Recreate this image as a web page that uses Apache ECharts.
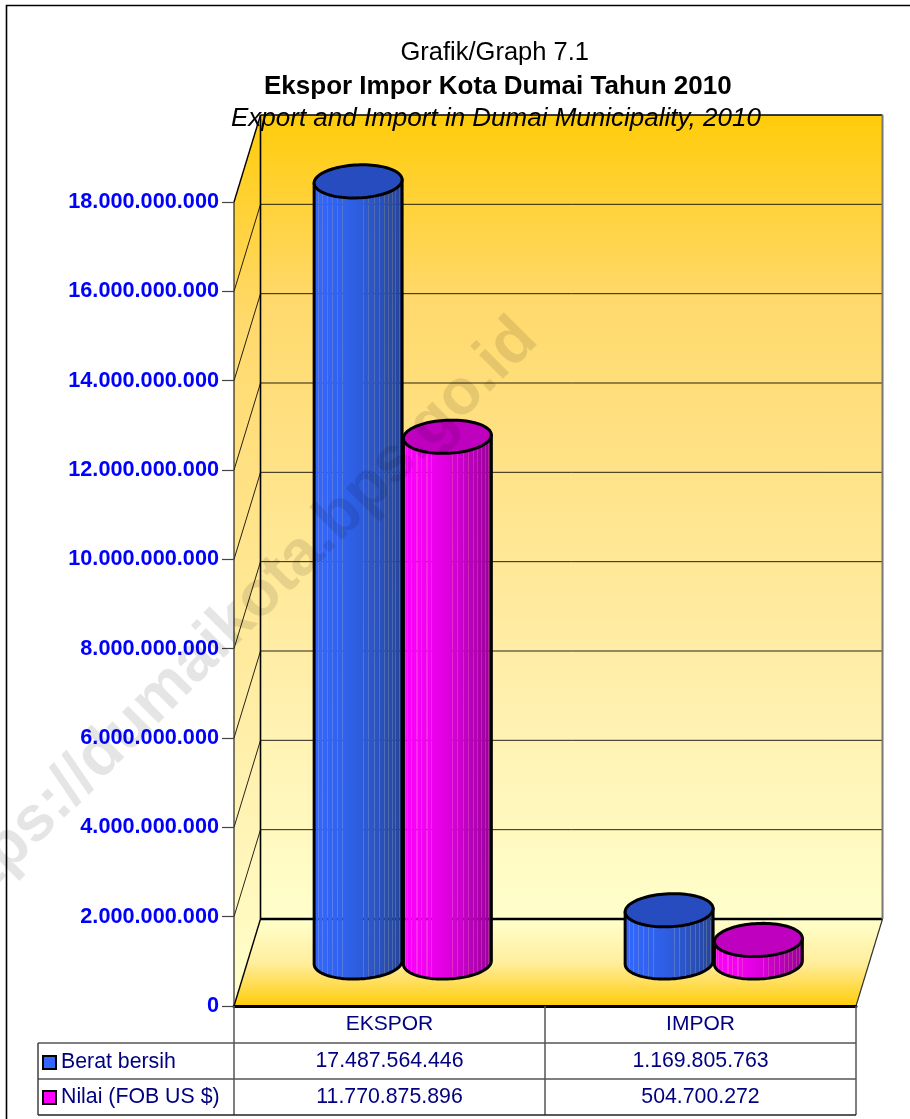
<!DOCTYPE html>
<html><head><meta charset="utf-8">
<style>html,body{margin:0;padding:0;background:#fff}#c{width:910px;height:1119px}</style>
<script src="https://cdn.jsdelivr.net/npm/echarts@6/dist/echarts.min.js"></script>
</head><body><div id="c"></div>
<script>
const categories = ['EKSPOR', 'IMPOR'];
const beratBersih = [17487564446, 1169805763];
const nilaiFob = [11770875896, 504700272];
const yTicks = [0, 2e9, 4e9, 6e9, 8e9, 10e9, 12e9, 14e9, 16e9, 18e9];
const seriesNames = ['Berat bersih', 'Nilai (FOB US $)'];
const titleLines = ['Grafik/Graph 7.1', 'Ekspor Impor Kota Dumai Tahun 2010', 'Export and Import in Dumai Municipality, 2010'];

const FONT = '"Liberation Sans", Arial, sans-serif';
const NAVY = '#000080';
const DEPTH = [26.5, -87];
const fmt = v => String(v).replace(/\B(?=(\d{3})+(?!\d))/g, '.');

const stripeOffsets = [.03,.06,.10,.16,.21,.27,.32,.55,.61,.67,.73,.78,.83,.87,.91,.95,.98];
function mix(a, b, t){ return a.map((v,i)=>v+(b[i]-v)*t); }
function facetColor(c, p){ return p < .45 ? mix(c[0], c[1], p/.45) : mix(c[1], c[2], (p-.45)/.55); }
function rgba(c, a){ return 'rgba(' + c.map(Math.round).join(',') + ',' + a + ')'; }
function facetGradient(c){
  const stops = [{offset:0, color:rgba(c[0],1)}];
  stripeOffsets.forEach(s=>{
    const w = .012;
    const a = facetColor(c, s), b = facetColor(c, s+w);
    stops.push({offset:s, color:rgba(a,1)},{offset:s, color:rgba(a,.82)},{offset:s+w, color:rgba(b,.82)},{offset:s+w, color:rgba(b,1)});
  });
  stops.push({offset:1, color:rgba(c[2],1)});
  return new echarts.graphic.LinearGradient(0,0,1,0,stops);
}
const palettes = [
  {body:[[51,102,255],[46,96,232],[38,68,150]], top:'#264CBF', flat:'#3366FF'},
  {body:[[255,0,255],[232,0,232],[150,0,150]], top:'#BF00BF', flat:'#FF00FF'}
];

function ellipsePoint(cx, cy, rx, ry, tilt, t){
  return [cx + rx*Math.cos(t)*Math.cos(tilt) - ry*Math.sin(t)*Math.sin(tilt),
          cy + rx*Math.cos(t)*Math.sin(tilt) + ry*Math.sin(t)*Math.cos(tilt)];
}
function cylinderRenderer(idx){
  return function(params, api){
    const cat = api.value(0), val = api.value(1);
    const band = api.size([1,0])[0];
    const top = api.coord([cat, val]);
    const base = api.coord([cat, 0]);
    const rx = band*.1415, ry = 16.5, tilt = -2.5*Math.PI/180;
    const sign = idx === 0 ? -1 : 1;
    const cx = top[0] + DEPTH[0]/2 + sign*band*.1435;
    const ct = top[1] + DEPTH[1]/2, cb = base[1] + DEPTH[1]/2;
    const t0 = Math.atan2(-ry*Math.sin(tilt), rx*Math.cos(tilt));
    const body = [], cap = [];
    for (let i=0;i<=48;i++) body.push(ellipsePoint(cx, cb, rx, ry, tilt, t0 + Math.PI*i/48));
    body.push(ellipsePoint(cx, ct, rx, ry, tilt, t0 + Math.PI));
    body.push(ellipsePoint(cx, ct, rx, ry, tilt, t0));
    for (let i=0;i<96;i++) cap.push(ellipsePoint(cx, ct, rx, ry, tilt, 2*Math.PI*i/96));
    const line = {stroke:'#000', lineWidth:3, lineJoin:'round'};
    return {type:'group', children:[
      {type:'polygon', shape:{points:body}, style:Object.assign({fill:facetGradient(palettes[idx].body)}, line)},
      {type:'polygon', shape:{points:cap}, style:Object.assign({fill:palettes[idx].top}, line)}
    ]};
  };
}
function wallStops(){ return [{offset:0,color:'#FFCC0A'},{offset:.23,color:'#FFD96C'},{offset:.73,color:'#FFF0AE'},{offset:1,color:'#FFFFCC'}]; }
function renderWalls(params, api){
  const band = api.size([1,0])[0];
  const o = api.coord([0, 0]);
  const x0 = o[0] - band/2, x1 = x0 + band*categories.length, y0 = o[1];
  const yT = api.coord([0, yTicks[yTicks.length-1]])[1];
  const [dx, dy] = DEPTH;
  const wall = new echarts.graphic.LinearGradient(0,0,0,1,wallStops());
  const wall2 = new echarts.graphic.LinearGradient(0,0,0,1,wallStops());
  const floor = new echarts.graphic.LinearGradient(0,0,0,1,[{offset:0,color:'#FFFFCC'},{offset:.5,color:'#FFEE9E'},{offset:1,color:'#FFCC0A'}]);
  const kids = [
    {type:'rect', shape:{x:x0+dx, y:yT+dy, width:x1-x0, height:y0-yT}, style:{fill:wall}},
    {type:'polygon', shape:{points:[[x0,yT],[x0+dx,yT+dy],[x0+dx,y0+dy],[x0,y0]]}, style:{fill:wall2}},
    {type:'polygon', shape:{points:[[x0,y0],[x0+dx,y0+dy],[x1+dx,y0+dy],[x1,y0]]}, style:{fill:floor}}
  ];
  yTicks.slice(1, -1).forEach(v=>{
    const y = api.coord([0, v])[1];
    kids.push({type:'polyline', shape:{points:[[x0,y],[x0+dx,y+dy],[x1+dx,y+dy]]}, style:{fill:null, stroke:'rgba(0,0,0,.85)', lineWidth:1}});
  });
  const seg = (a,b,c,w) => kids.push({type:'line', shape:{x1:a[0],y1:a[1],x2:b[0],y2:b[1]}, style:{stroke:c, lineWidth:w}});
  seg([x0+dx,y0+dy],[x1+dx,y0+dy],'#000',2.4);
  seg([x0+dx,yT+dy],[x1+dx,yT+dy],'#000',1.6);
  seg([x0+dx,yT+dy],[x0+dx,y0+dy],'#000',1.6);
  seg([x1+dx,yT+dy],[x1+dx,y0+dy],'#777',2);
  seg([x0,yT],[x0+dx,yT+dy],'#000',1.4);
  seg([x0,y0],[x0+dx,y0+dy],'#000',1.4);
  seg([x1,y0],[x1+dx,y0+dy],'#333',1.2);
  seg([x0,yT],[x0,y0],'#222',1.2);
  return {type:'group', children:kids};
}
const TABLE_ROWS = [1061, 1097];
function renderTable(params, api){
  const i = api.value(0);
  const x = api.coord([i, 0])[0];
  const vals = [beratBersih[i], nilaiFob[i]];
  return {type:'group', children: vals.map((v,r)=>({type:'text', style:{
    x:x, y:TABLE_ROWS[r], text:fmt(v), fill:NAVY, align:'center', verticalAlign:'middle', font:'21.3px '+FONT}}))};
}
function cylData(vals){ return vals.map((v,i)=>[i,v]); }

const chart = echarts.init(document.getElementById('c'), null, {renderer:'canvas'});
chart.setOption({
  animation:false,
  backgroundColor:'#fff',
  title:[
    {text:titleLines[0], left:395.5, top:35, textStyle:{fontFamily:FONT, fontSize:25.5, fontWeight:'normal', color:'#000'}},
    {text:titleLines[1], left:259, top:69, textStyle:{fontFamily:FONT, fontSize:26, fontWeight:'bold', color:'#000'}},
    {text:titleLines[2], left:226, top:101, textStyle:{fontFamily:FONT, fontSize:26, fontWeight:'normal', fontStyle:'italic', color:'#000'}}
  ],
  legend:{
    orient:'vertical', left:37, top:1047, itemWidth:13, itemHeight:13, itemGap:14, selectedMode:false,
    textStyle:{fontFamily:FONT, fontSize:21.3, color:NAVY, padding:[2,0,0,0]},
    data:seriesNames.map((n,i)=>({name:n, icon:'rect', itemStyle:{color:palettes[i].flat, borderColor:'#000', borderWidth:2}}))
  },
  grid:{left:234, top:202, width:622, height:804, containLabel:false},
  xAxis:{type:'category', data:categories, z:3,
    axisLine:{lineStyle:{color:'#000', width:3}},
    axisTick:{show:true, length:109, inside:false, lineStyle:{color:'#555', width:1.5}},
    axisLabel:{color:NAVY, fontFamily:FONT, fontSize:21, margin:8}
  },
  yAxis:{type:'value', min:0, max:18e9, interval:2e9, z:3,
    splitLine:{show:false},
    axisLine:{show:false},
    axisTick:{show:true, length:12, lineStyle:{color:'#444', width:1.2}},
    axisLabel:{color:'#0000FF', fontFamily:FONT, fontSize:21.7, fontWeight:'bold', margin:15, formatter:v=>fmt(v)}
  },
  series:[
    {type:'custom', name:'walls', z:1, silent:true, renderItem:renderWalls, data:[[0,0]], encode:{x:0,y:1}},
    {type:'custom', name:seriesNames[0], z:2, renderItem:cylinderRenderer(0), data:cylData(beratBersih), encode:{x:0,y:1}, itemStyle:{color:palettes[0].flat}},
    {type:'custom', name:seriesNames[1], z:2, renderItem:cylinderRenderer(1), data:cylData(nilaiFob), encode:{x:0,y:1}, itemStyle:{color:palettes[1].flat}},
    {type:'custom', name:'table', z:4, silent:true, renderItem:renderTable, data:[[0,0],[1,0]], encode:{x:0,y:1}}
  ],
  graphic:[
    {type:'polyline', z:50, silent:true, shape:{points:[[6.5,1119],[6.5,5.5],[910,5.5]]}, style:{fill:null, stroke:'#000', lineWidth:1.6}},
    {type:'line', z:50, silent:true, shape:{x1:38,y1:1043,x2:856,y2:1043}, style:{stroke:'#555', lineWidth:1.4}},
    {type:'line', z:50, silent:true, shape:{x1:38,y1:1079,x2:856,y2:1079}, style:{stroke:'#555', lineWidth:1.4}},
    {type:'line', z:50, silent:true, shape:{x1:38,y1:1115,x2:856,y2:1115}, style:{stroke:'#222', lineWidth:1.4}},
    {type:'line', z:50, silent:true, shape:{x1:38,y1:1043,x2:38,y2:1115}, style:{stroke:'#333', lineWidth:1.4}},
    {type:'text', z:100, silent:true, x:550, y:352, rotation:Math.PI/4, originX:0, originY:0,
      style:{text:'https://dumaikota.bps.go.id', fill:'rgba(0,0,0,.1)', stroke:'rgba(0,0,0,.1)', lineWidth:0, font:'bold 64px '+FONT, align:'right', verticalAlign:'bottom'}}
  ]
});
</script></body></html>
